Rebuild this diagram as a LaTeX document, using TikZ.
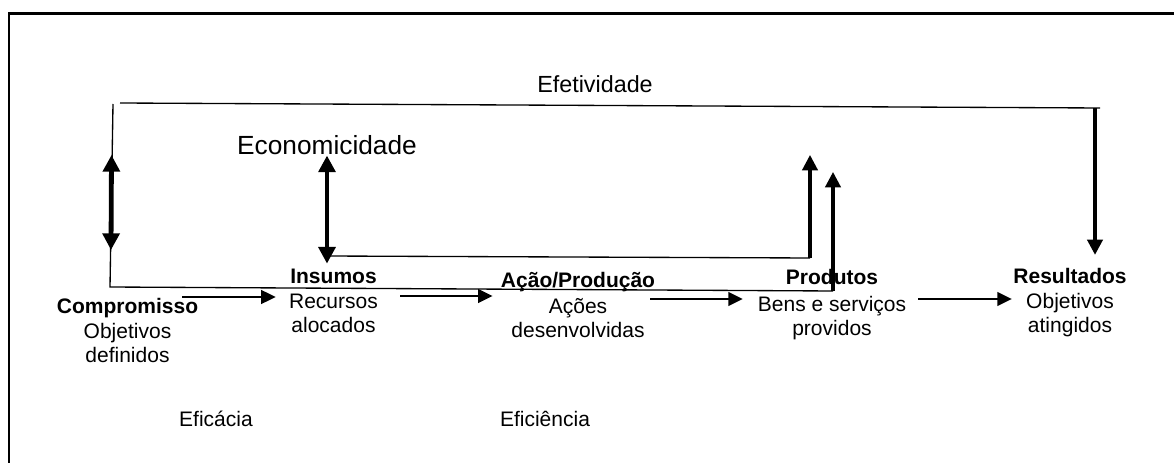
\documentclass[tikz,border=0pt]{standalone}
\usepackage{fontspec}
\setmainfont{Liberation Sans}
\usetikzlibrary{arrows.meta}
\begin{document}
\begin{tikzpicture}[x=0.75pt,y=0.75pt,yscale=-1,xscale=1,
  lbl/.style={anchor=base,inner sep=0pt,font=\fontsize{15.75}{18}\selectfont},
  hd/.style={lbl,font=\fontsize{15.75}{18}\selectfont\bfseries},
  thinln/.style={line width=1pt},
  flow/.style={line width=2.2pt,-{Triangle[length=11pt,width=10pt]}},
  rise/.style={line width=2.3pt,-{Triangle[length=11.5pt,width=11.5pt]}},
  both/.style={line width=3.6pt,{Triangle[length=12.5pt,width=12.5pt]}-{Triangle[length=12.5pt,width=12.5pt]}}]
\useasboundingbox (0,0) rectangle (1174,463);
\draw [line width=1.6pt] (9,463) -- (9,13.5) -- (1174,13.5);
\draw (127.5,314) node [hd] (comp) {Compromisso};
\draw (127.5,338) node [lbl] (comp-a) {Objetivos};
\draw (127.5,362) node [lbl] (comp-b) {definidos};
\draw (333.5,283) node [hd] (ins) {Insumos};
\draw (333.5,308) node [lbl] (ins-a) {Recursos};
\draw (333.5,332) node [lbl] (ins-b) {alocados};
\draw (578,287) node [hd] (aca) {Ação/Produção};
\draw (578,313) node [lbl] (aca-a) {Ações};
\draw (578,337) node [lbl] (aca-b) {desenvolvidas};
\draw (832,285) node [hd] (prod) {Produtos};
\draw (832,311) node [lbl] (prod-a) {Bens e serviços};
\draw (832,335) node [lbl] (prod-b) {providos};
\draw (1070,283) node [hd] (res) {Resultados};
\draw (1070,308) node [lbl] (res-a) {Objetivos};
\draw (1070,332) node [lbl] (res-b) {atingidos};
\draw (595,93) node [lbl,font=\fontsize{17.5}{20}\selectfont] (efet) {Efetividade};
\draw (327,155) node [lbl,font=\fontsize{19.7}{23}\selectfont] (econ) {Economicidade};
\draw (216,426) node [lbl] (efic) {Eficácia};
\draw (545,426) node [lbl] (efien) {Eficiência};
\coordinate (ef-l) at (120,103);
\coordinate (ef-r) at (1095,108);
\draw [thinln] (ef-l) -- (1100,108);
\draw [rise,line width=2.6pt,shorten >=9.5pt] (ef-r) -- (ef-r |- res.north);
\coordinate (ek-t) at (113,104);
\coordinate (ek-c) at (110,287);
\draw [thinln] (ek-t) -- (ek-c) -- (833,291);
\draw [rise] (833,291) -- (833,172);
\draw [both] (111.5,155) -- (111,250);
\coordinate (ec-l) at (327,256);
\draw [thinln] (ec-l) -- (810,258);
\draw [rise] (810,258) -- (810,155);
\draw [both,shorten >=3.5pt] (econ.south) -- (econ.south |- ins.north);
\coordinate (f1) at (182,297);
\coordinate (f2) at (400,296);
\coordinate (f3) at (650,299);
\coordinate (f4) at (918,299);
\draw [flow,shorten >=9.75pt] (f1) -- (f1 -| ins-a.west);
\draw [flow,shorten >=6pt] (f2) -- (f2 -| aca.west);
\draw [flow,shorten >=11pt] (f3) -- (f3 -| prod-a.west);
\draw [flow,shorten >=10.5pt] (f4) -- (f4 -| res-a.west);
\end{tikzpicture}
\end{document}
